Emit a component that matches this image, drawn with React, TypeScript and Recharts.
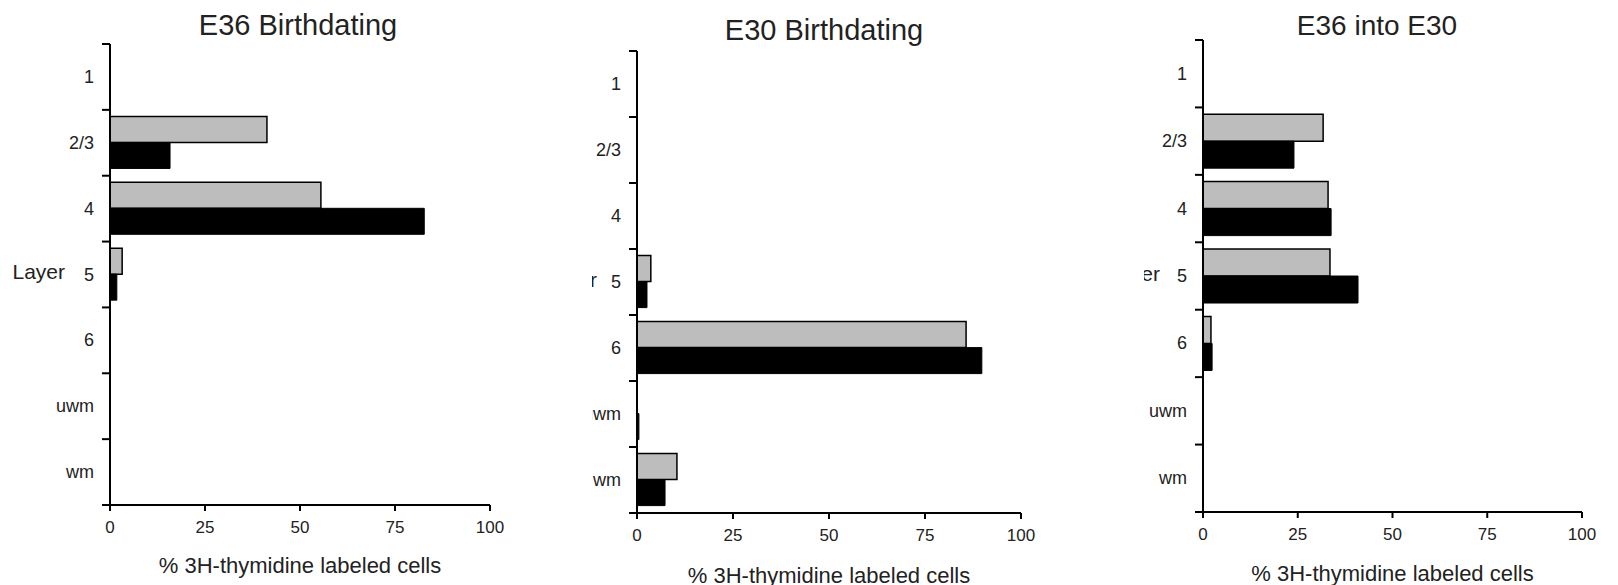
import React from 'react';
import { BarChart, Bar, XAxis, YAxis } from 'recharts';

const layers = ['1', '2/3', '4', '5', '6', 'uwm', 'wm'];
const xTicks = [0, 25, 50, 75, 100];

const e36Gray = [0, 41.3, 55.5, 3.2, 0, 0, 0];
const e36Black = [0, 15.8, 82.7, 1.8, 0, 0, 0];
const e30Gray = [0, 0, 0, 3.6, 85.7, 0, 10.4];
const e30Black = [0, 0, 0, 2.6, 89.8, 0.5, 7.3];
const intoGray = [0, 31.7, 33.0, 33.5, 2.1, 0, 0];
const intoBlack = [0, 24.0, 33.8, 40.9, 2.4, 0, 0];

const titles = ['E36 Birthdating', 'E30 Birthdating', 'E36 into E30'];
const xTitle = '% 3H-thymidine labeled cells';
const yTitle = 'Layer';

const build = (g: number[], b: number[]) =>
  layers.map((l, i) => ({ layer: l, gray: g[i], black: b[i] }));

const FONT = '"Liberation Sans", Arial, sans-serif';
const TXT = '#222';

type PanelCfg = {
  left: number;
  width: number;
  top: number;
  bottom: number;
  yAxisW: number;
  right: number;
  layerGap: number;
  xTitleGap: number;
  data: { layer: string; gray: number; black: number }[];
};

const H = 585;
const XH = 60;

function Panel({ cfg }: { cfg: PanelCfg }) {
  const plotH = cfg.bottom - cfg.top;
  const band = plotH / layers.length;
  const n = layers.length;
  const tick = (props: any) => {
    const { x, y, payload, index } = props;
    return (
      <g>
        <line x1={x - 8} x2={x} y1={y - band / 2} y2={y - band / 2} stroke="#000" strokeWidth={2} />
        {index === n - 1 ? (
          <line x1={x - 8} x2={x} y1={y + band / 2} y2={y + band / 2} stroke="#000" strokeWidth={2} />
        ) : null}
        <text x={x - 16} y={y} textAnchor="end" dominantBaseline="central" fontSize={18} fill={TXT}>
          {payload.value}
        </text>
      </g>
    );
  };
  const yLabel = (p: any) => {
    const vb = p.viewBox || {};
    return (
      <text
        x={vb.x + vb.width - cfg.layerGap}
        y={vb.y + vb.height / 2 - 3}
        textAnchor="end"
        dominantBaseline="central"
        fontSize={21}
        fill={TXT}
      >
        {yTitle}
      </text>
    );
  };
  const xLabel = (p: any) => {
    const vb = p.viewBox || {};
    return (
      <text
        x={vb.x + vb.width / 2}
        y={vb.y + cfg.xTitleGap}
        textAnchor="middle"
        dominantBaseline="central"
        fontSize={22}
        fill={TXT}
      >
        {xTitle}
      </text>
    );
  };
  return (
    <div style={{ position: 'absolute', left: cfg.left, top: 0, width: cfg.width, height: H }}>
      <BarChart
        width={cfg.width}
        height={H}
        data={cfg.data}
        layout="vertical"
        barGap={0}
        barCategoryGap="10%"
        margin={{ top: cfg.top, right: cfg.right, bottom: H - cfg.bottom - XH, left: 0 }}
      >
        <XAxis
          type="number"
          domain={[0, 100]}
          ticks={xTicks}
          interval={0}
          height={XH}
          tickSize={6}
          tickMargin={10}
          axisLine={{ stroke: '#000', strokeWidth: 2 }}
          tickLine={{ stroke: '#000', strokeWidth: 2 }}
          tick={{ fill: TXT, fontSize: 17 }}
          label={xLabel}
        />
        <YAxis
          type="category"
          dataKey="layer"
          width={cfg.yAxisW}
          interval={0}
          tickSize={0}
          tickMargin={0}
          tickLine={false}
          axisLine={{ stroke: '#000', strokeWidth: 2 }}
          tick={tick}
          label={yLabel}
        />
        <Bar dataKey="gray" fill="#bdbdbd" stroke="#000" strokeWidth={1.5} isAnimationActive={false} />
        <Bar dataKey="black" fill="#000" stroke="#000" strokeWidth={1} isAnimationActive={false} />
      </BarChart>
    </div>
  );
}

const panels: PanelCfg[] = [
  { left: 0, width: 520, top: 44, bottom: 505, yAxisW: 110, right: 30, layerGap: 45, xTitleGap: 60, data: build(e36Gray, e36Black) },
  { left: 592, width: 448, top: 51, bottom: 513, yAxisW: 45, right: 19, layerGap: 40, xTitleGap: 62, data: build(e30Gray, e30Black) },
  { left: 1144, width: 474, top: 40, bottom: 512, yAxisW: 59, right: 36, layerGap: 43, xTitleGap: 61, data: build(intoGray, intoBlack) },
];

const titlePos = [
  { cx: 298, top: 11, size: 29 },
  { cx: 824, top: 16, size: 29 },
  { cx: 1377, top: 12, size: 28 },
];

export default function App() {
  return (
    <div
      style={{
        position: 'absolute',
        left: 0,
        top: 0,
        width: 1618,
        height: 585,
        overflow: 'hidden',
        background: '#fff',
        fontFamily: FONT,
      }}
    >
      {panels.map((p, i) => (
        <Panel key={i} cfg={p} />
      ))}
      {titles.map((t, i) => (
        <div
          key={t}
          style={{
            position: 'absolute',
            left: titlePos[i].cx - 200,
            width: 400,
            top: titlePos[i].top,
            textAlign: 'center',
            fontSize: titlePos[i].size,
            lineHeight: `${titlePos[i].size}px`,
            color: TXT,
            whiteSpace: 'nowrap',
          }}
        >
          {t}
        </div>
      ))}
    </div>
  );
}
